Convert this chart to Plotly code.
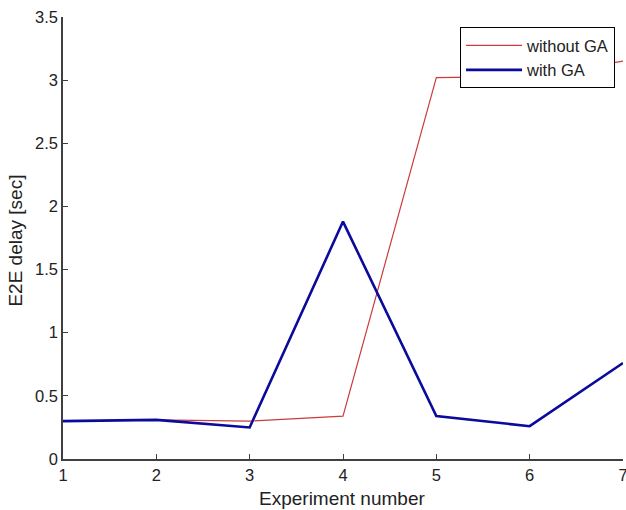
import plotly.graph_objects as go

experiments = [1, 2, 3, 4, 5, 6, 7]
without_ga = [0.30, 0.31, 0.30, 0.34, 3.02, 3.03, 3.15]
with_ga = [0.30, 0.31, 0.25, 1.88, 0.34, 0.26, 0.76]
y_ticks = [0, 0.5, 1, 1.5, 2, 2.5, 3, 3.5]
y_tick_labels = ["0", "0.5", "1", "1.5", "2", "2.5", "3", "3.5"]

FONT = "Liberation Sans, Arial"

fig = go.Figure()
fig.add_trace(go.Scatter(x=experiments, y=without_ga, mode="lines", name="without GA",
                         line=dict(color="#cc3b3b", width=1.2)))
fig.add_trace(go.Scatter(x=experiments, y=with_ga, mode="lines", name="with GA",
                         line=dict(color="#0a0a9c", width=2.6)))

axis_common = dict(showgrid=False, zeroline=False, showline=True, linecolor="#404040",
                   linewidth=1.5, ticks="inside", ticklen=5, tickcolor="#404040",
                   automargin=False, ticklabeloverflow="allow",
                   tickfont=dict(family=FONT, size=16.5, color="#222"))

fig.update_layout(
    width=626, height=510,
    autosize=False,
    margin=dict(l=63, r=3, t=17, b=51),
    paper_bgcolor="white", plot_bgcolor="white",
    showlegend=True,
    legend=dict(x=0.709, y=0.977, xanchor="left", yanchor="top",
                bordercolor="black", borderwidth=1, bgcolor="white",
                font=dict(family=FONT, size=16.5, color="#222"),
                tracegroupgap=0, itemwidth=56),
    xaxis=dict(range=[1, 7], tickvals=experiments, **axis_common),
    yaxis=dict(range=[0, 3.5], tickvals=y_ticks, ticktext=y_tick_labels, **axis_common),
    annotations=[
        dict(text="Experiment number", xref="paper", yref="paper", x=0.498, y=-0.062,
             xanchor="center", yanchor="top", showarrow=False,
             font=dict(family=FONT, size=19, color="#222")),
        dict(text="E2E delay [sec]", xref="paper", yref="paper", x=-0.084, y=0.494,
             xanchor="center", yanchor="middle", showarrow=False, textangle=-90,
             font=dict(family=FONT, size=19, color="#222")),
    ],
)

fig.write_html("out.html", config={"responsive": False, "displayModeBar": False},
               post_script="document.body.style.margin='0';document.body.style.overflow='hidden';")
